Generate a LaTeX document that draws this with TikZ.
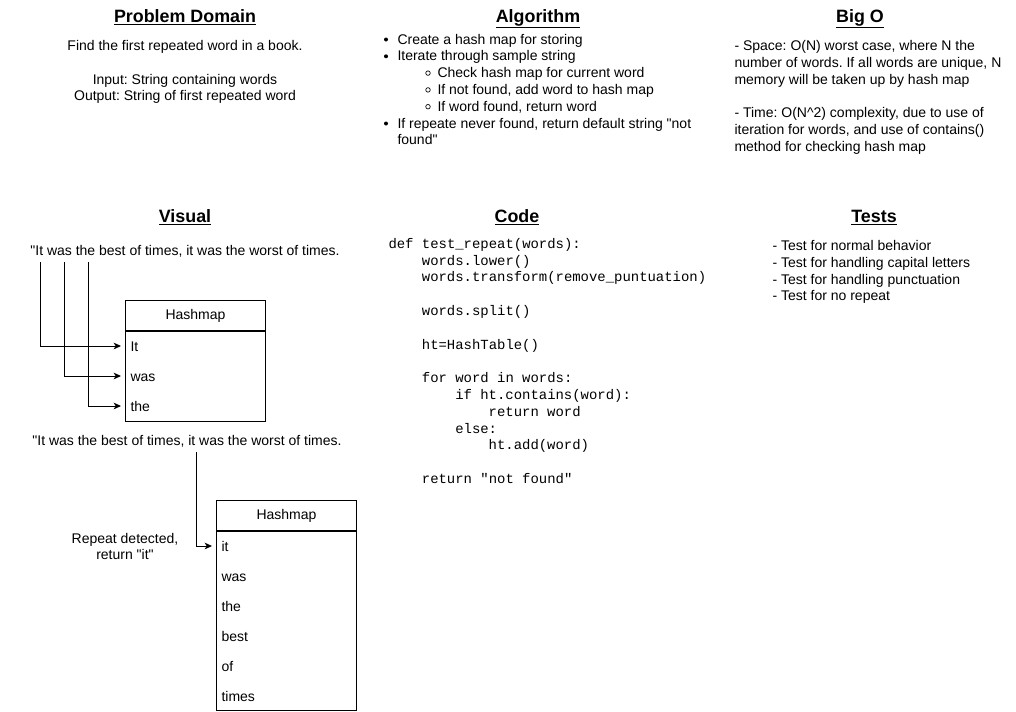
\documentclass[tikz,border=0pt]{standalone}
\usepackage{fontspec}
\setmainfont{Liberation Sans}[Ligatures=TeXOff]
\setmonofont{Liberation Mono}
\usetikzlibrary{arrows.meta}
\frenchspacing
\begin{document}
\begin{tikzpicture}[x=0.75pt,y=-0.75pt, line width=0.75pt,
 title/.style={font=\fontsize{13.4}{15}\selectfont\bfseries, inner sep=0, anchor=base},
 txt/.style={font=\fontsize{10.5}{12.6}\selectfont, inner sep=0, anchor=base west},
 ctxt/.style={font=\fontsize{10.5}{12.6}\selectfont, inner sep=0, anchor=base},
 code/.style={font=\fontsize{10.45}{12.6}\selectfont\ttfamily, inner sep=0, anchor=base west},
 hhead/.style={draw, minimum width=105pt, minimum height=22.5pt, inner sep=0, anchor=north west, font=\fontsize{10.5}{12.6}\selectfont},
 hbody/.style={draw, minimum width=105pt, inner sep=0, anchor=north west},
 hrow/.style={font=\fontsize{10.5}{12.6}\selectfont, anchor=west, inner xsep=3.75pt, inner ysep=0, text height=7.6pt, text depth=0pt},
 bul/.style={fill=black, circle, inner sep=0, minimum size=3pt},
 sbul/.style={draw=black, line width=0.5pt, circle, inner sep=0, minimum size=3.4pt},
 arr/.style={-{Stealth[length=5.5pt,width=5pt,inset=1.5pt]}, draw=black}
]
\useasboundingbox (0,0) rectangle (1016,711);

% ---------- Problem Domain ----------
\node[title] (tpd) at (185,22) {\underline{Problem Domain}};
\node[ctxt] (pd1) at (185,50.5) {Find the first repeated word in a book.};
\node[ctxt] (pd2) at (185,84) {Input: String containing words};
\node[ctxt] (pd3) at (185,100.5) {Output: String of first repeated word};

% ---------- Algorithm ----------
\node[title] (talg) at (538,22) {\underline{Algorithm}};
\node[bul] (b1) at (386,39.5) {};
\node[txt] (al1) at (397,44) {Create a hash map for storing};
\node[bul] (b2) at (386,56.3) {};
\node[txt] (al2) at (397,60.8) {Iterate through sample string};
\node[sbul] (b3) at (428,73.1) {};
\node[txt] (al3) at (437,77.6) {Check hash map for current word};
\node[sbul] (b4) at (428,89.9) {};
\node[txt] (al4) at (437,94.4) {If not found, add word to hash map};
\node[sbul] (b5) at (428,106.7) {};
\node[txt] (al5) at (437,111.2) {If word found, return word};
\node[bul] (b6) at (386,123.5) {};
\node[txt] (al6) at (397,128) {If repeate never found, return default string "not};
\node[txt] (al7) at (397,144.8) {found"};

% ---------- Big O ----------
\node[title] (tbo) at (860,22) {\underline{Big O}};
\node[txt] (bo1) at (734,50.5) {- Space: O(N) worst case, where N the};
\node[txt] (bo2) at (734,67.3) {number of words. If all words are unique, N};
\node[txt] (bo3) at (734,84.1) {memory will be taken up by hash map};
\node[txt] (bo4) at (734,117.7) {- Time: O(N\textasciicircum 2) complexity, due to use of};
\node[txt] (bo5) at (734,134.5) {iteration for words, and use of contains()};
\node[txt] (bo6) at (734,151.3) {method for checking hash map};

% ---------- Visual ----------
\node[title] (tvis) at (185,222) {\underline{Visual}};
\node[ctxt] (s1) at (185,255.5) {"It was the best of times, it was the worst of times.};

\node[hhead] (h1) at (125,300) {Hashmap};
\node[hbody, minimum height=67.5pt] (h1b) at (h1.south west) {};
\node[hrow] (a1) at (125,346) {It};
\node[hrow] (a2) at (125,376) {was};
\node[hrow] (a3) at (125,406) {the};

\coordinate (p1) at (40,262);
\coordinate (p2) at (64,262);
\coordinate (p3) at (88,262);
\draw[arr, shorten >=3pt] (p1) |- (a1.west);
\draw[arr, shorten >=3pt] (p2) |- (a2.west);
\draw[arr, shorten >=3pt] (p3) |- (a3.west);

\node[ctxt] (s2) at (187,445.5) {"It was the best of times, it was the worst of times.};

\node[hhead] (h2) at (216,500) {Hashmap};
\node[hbody, minimum height=134.25pt] (h2b) at (h2.south west) {};
\node[hrow] (c1) at (216,546) {it};
\node[hrow] (c2) at (216,576) {was};
\node[hrow] (c3) at (216,606) {the};
\node[hrow] (c4) at (216,636) {best};
\node[hrow] (c5) at (216,666) {of};
\node[hrow] (c6) at (216,696) {times};

\coordinate (q1) at (196,452);
\draw[arr, shorten >=3pt] (q1) |- (c1.west);

\node[ctxt] (rd1) at (125,543) {Repeat detected,};
\node[ctxt] (rd2) at (125,559.8) {return "it"};

% ---------- Code ----------
\node[title] (tcode) at (517,222) {\underline{Code}};
\node[code] (k1) at (388,248.3) {def test\_repeat(words):};
\node[code] (k2) at (421.4,265.1) {words.lower()};
\node[code] (k3) at (421.4,281.9) {words.transform(remove\_puntuation)};
\node[code] (k4) at (421.4,315.5) {words.split()};
\node[code] (k5) at (421.4,349.1) {ht=HashTable()};
\node[code] (k6) at (421.4,382.7) {for word in words:};
\node[code] (k7) at (454.8,399.5) {if ht.contains(word):};
\node[code] (k8) at (488.2,416.3) {return word};
\node[code] (k9) at (454.8,433.1) {else:};
\node[code] (k10) at (488.2,449.9) {ht.add(word)};
\node[code] (k11) at (421.4,483.5) {return "not found"};

% ---------- Tests ----------
\node[title] (ttest) at (874,222) {\underline{Tests}};
\node[txt] (t1) at (772,250.5) {- Test for normal behavior};
\node[txt] (t2) at (772,267.3) {- Test for handling capital letters};
\node[txt] (t3) at (772,284.1) {- Test for handling punctuation};
\node[txt] (t4) at (772,300.9) {- Test for no repeat};
\end{tikzpicture}
\end{document}
